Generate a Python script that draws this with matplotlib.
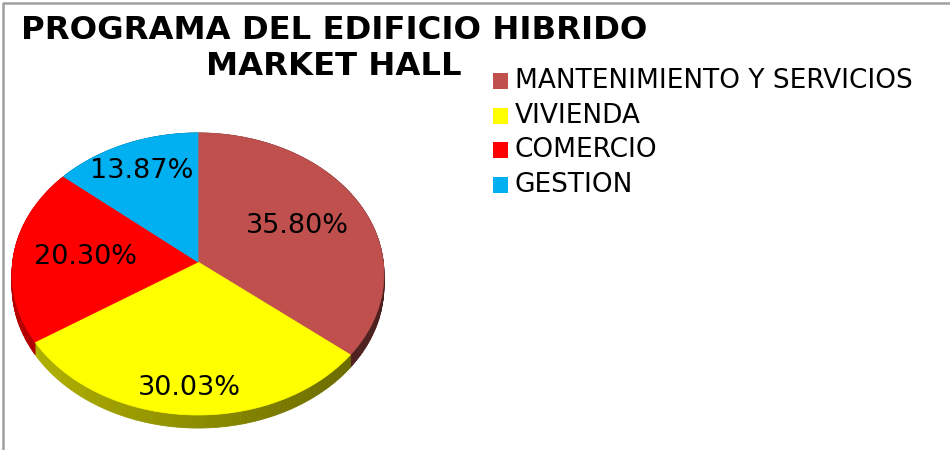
import numpy as np
import matplotlib
matplotlib.use("Agg")
import matplotlib.pyplot as plt
from matplotlib.collections import PolyCollection
from matplotlib.patches import Polygon, Rectangle
from matplotlib.colors import to_rgb

# programme shares of the hybrid building
categories = ["MANTENIMIENTO Y SERVICIOS", "VIVIENDA", "COMERCIO", "GESTION"]
shares = [35.80, 30.03, 20.30, 13.87]
colors = ["#C0504D", "#FFFF00", "#FF0000", "#00B0F0"]
title_lines = ["PROGRAMA DEL EDIFICIO HIBRIDO", "MARKET HALL"]

# tilted pie geometry (pixels)
CX, CY = 198, 262
RX, RY = 185.3, 140.0
K = 0.085          # perspective: front of the disc is closer
DEPTH = 11.9
label_frac = [0.61, 0.84, 0.61, 0.76]


def proj(u, v, drop=0.0):
    w = 1 - K * v
    return CX + RX * u / w, CY + (RY * v + drop) / w


def rim(t0, t1, n=120, f=1.0):
    t = np.linspace(t0, t1, n)
    return f * np.sin(t), -f * np.cos(t)


fig = plt.figure(figsize=(9.5, 4.5), dpi=100)
ax = fig.add_axes([0, 0, 1, 1])
ax.set_xlim(0, 950)
ax.set_ylim(450, 0)
ax.axis("off")

frac = np.array(shares) / sum(shares)
edges = np.concatenate([[0], np.cumsum(frac)]) * 2 * np.pi

# side wall of the disc, shaded darker to the right
for i in range(len(shares)):
    u, v = rim(edges[i], edges[i + 1])
    xt, yt = proj(u, v)
    xb, yb = proj(u, v, DEPTH)
    base = np.array(to_rgb(colors[i]))
    quads, cols = [], []
    for j in range(len(u) - 1):
        quads.append([(xt[j], yt[j]), (xt[j + 1], yt[j + 1]),
                      (xb[j + 1], yb[j + 1]), (xb[j], yb[j])])
        um = 0.5 * (u[j] + u[j + 1])
        cols.append(base * (0.72 - 0.17 * (um + 1)))
    ax.add_collection(PolyCollection(quads, facecolors=cols, edgecolors=cols,
                                     linewidths=0.6, zorder=1))

# top face
for i in range(len(shares)):
    u, v = rim(edges[i], edges[i + 1], 200)
    x, y = proj(u, v)
    pts = np.column_stack([np.r_[CX, x], np.r_[CY, y]])
    ax.add_patch(Polygon(pts, closed=True, facecolor=colors[i],
                         edgecolor=colors[i], linewidth=0.5, zorder=2))

# percentage labels
for i, s in enumerate(shares):
    mid = 0.5 * (edges[i] + edges[i + 1])
    f = label_frac[i]
    lx, ly = proj(f * np.sin(mid), -f * np.cos(mid))
    ax.text(lx, ly, f"{s:.2f}%", ha="center", va="center",
            fontsize=19.5, color="black", zorder=3)

# title
ax.text(334, 39, title_lines[0], ha="center", va="baseline",
        fontsize=23.2, fontweight="bold")
ax.text(334, 75, title_lines[1], ha="center", va="baseline",
        fontsize=23.2, fontweight="bold")

# legend
for i, name in enumerate(categories):
    y = 81 + i * 34.7
    ax.add_patch(Rectangle((493, y - 8), 15, 16, facecolor=colors[i],
                           edgecolor="none"))
    ax.text(515, y, name, ha="left", va="center", fontsize=19)

# chart frame (top and left edges)
ax.plot([3, 3, 950], [450, 2.5, 2.5], color="#a0a0a0", linewidth=1.8,
        solid_capstyle="butt")

fig.savefig("out.png", dpi=100)
